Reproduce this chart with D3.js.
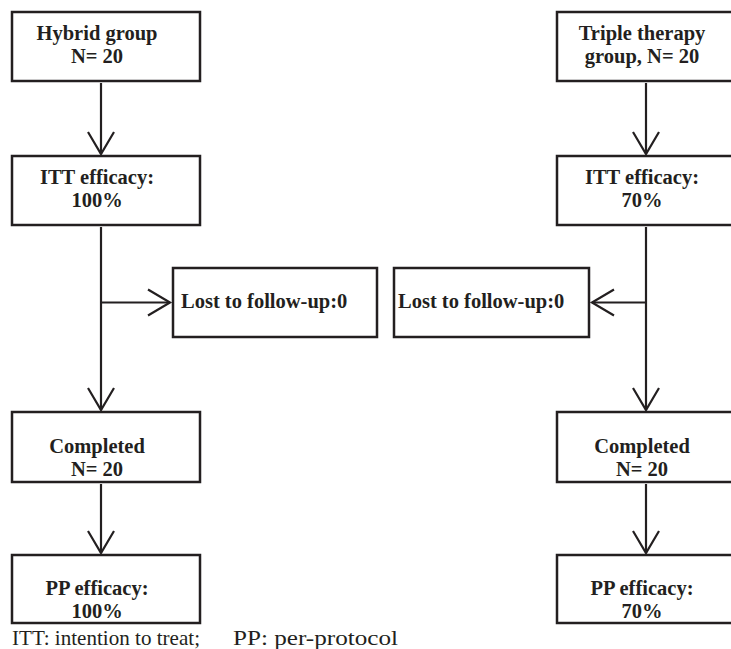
<!DOCTYPE html>
<html>
<head>
<meta charset="utf-8">
<script src="https://cdn.jsdelivr.net/npm/d3@7"></script>
<style>
  body { margin: 0; background: #fff; }
  svg text { font-family: "Liberation Serif", "Times New Roman", serif; fill: #231f20; }
</style>
</head>
<body>
<div id="chart-area"></div>
<script>
// flow chart: two arms, each going group -> ITT -> completed -> PP
const columns = ["hybrid", "triple"];
const rows = ["group", "itt", "lost", "completed", "pp"];

const nodeIds = ["h_group", "h_itt", "h_lost", "h_done", "h_pp",
                 "t_group", "t_itt", "t_lost", "t_done", "t_pp"];
const nodeCols = ["hybrid", "hybrid", "hybrid", "hybrid", "hybrid",
                  "triple", "triple", "triple", "triple", "triple"];
const nodeRows = ["group", "itt", "lost", "completed", "pp",
                  "group", "itt", "lost", "completed", "pp"];
const nodeLabels = [
    ["Hybrid group", "N= 20"],
    ["ITT efficacy:", "100%"],
    ["Lost to follow-up:0"],
    ["Completed", "N= 20"],
    ["PP efficacy:", "100%"],
    ["Triple therapy", "group, N= 20"],
    ["ITT efficacy:", "70%"],
    ["Lost to follow-up:0"],
    ["Completed", "N= 20"],
    ["PP efficacy:", "70%"]
];

// straight links down the spine, and the side branches off the ITT->completed link
const linkFrom = ["h_group", "h_itt", "h_done", "t_group", "t_itt", "t_done"];
const linkTo = ["h_itt", "h_done", "h_pp", "t_itt", "t_done", "t_pp"];
const branchFrom = ["h_itt", "t_itt"];
const branchTo = ["h_lost", "t_lost"];

const footnotes = ["ITT: intention to treat;", "PP: per-protocol"];

const width = 731, height = 649;

// spine x of each arm
const spineX = d3.scaleOrdinal().domain(columns).range([101, 646]);
// top of each row of boxes
const rowTop = d3.scaleOrdinal().domain(rows).range([12, 156, 268, 412, 555]);
const rowHeight = d3.scaleOrdinal().domain(rows).range([69, 69, 69, 70, 68]);
const rowBaseline = d3.scaleOrdinal().domain(rows).range([28, 28, 40, 41, 40]);
const lineGap = 23;

const nodes = nodeIds.map((id, i) => {
    const col = nodeCols[i], row = nodeRows[i];
    let x, w, pad = 8;
    if (row === "lost") {
        if (col === "hybrid") { x = spineX(col) + 72; w = 204; }
        else { x = spineX(col) - 252; w = 195; pad = 4; }
    } else {
        x = spineX(col) - 89; w = 188;
    }
    return {id: id, col: col, row: row, label: nodeLabels[i], pad: pad,
            x: x, y: rowTop(row), w: w, h: rowHeight(row)};
});
const byId = {};
nodes.forEach(n => { byId[n.id] = n; });

const svg = d3.select("#chart-area")
    .append("svg")
        .attr("width", width)
        .attr("height", height);

const stroke = "#231f20";

// boxes
const box = svg.selectAll("g.node").data(nodes).enter()
    .append("g")
        .attr("class", "node");
box.append("rect")
    .attr("x", d => d.x)
    .attr("y", d => d.y)
    .attr("width", d => d.w)
    .attr("height", d => d.h)
    .attr("fill", "none")
    .attr("stroke", stroke)
    .attr("stroke-width", 2.5);
box.each(function(d) {
    const g = d3.select(this);
    const one = d.label.length === 1;
    d.label.forEach((t, k) => {
        g.append("text")
            .attr("x", one ? d.x + d.pad : spineX(d.col) - 4)
            .attr("y", d.y + rowBaseline(d.row) + k * lineGap)
            .attr("text-anchor", one ? "start" : "middle")
            .attr("font-size", "20.5px")
            .attr("font-weight", "bold")
            .text(t);
    });
});

// arrowhead as an open V
function vHead(tx, ty, dir) {
    const len = 22, half = 13;
    if (dir === "down") return `M${tx - half},${ty - len}L${tx},${ty}L${tx + half},${ty - len}`;
    if (dir === "right") return `M${tx - len},${ty - half}L${tx},${ty}L${tx - len},${ty + half}`;
    return `M${tx + len},${ty - half}L${tx},${ty}L${tx + len},${ty + half}`;
}

const links = linkFrom.map((f, i) => ({a: byId[f], b: byId[linkTo[i]]}));
const lg = svg.append("g").attr("class", "links")
    .attr("fill", "none").attr("stroke", stroke).attr("stroke-width", 2.2);
links.forEach(l => {
    const x = spineX(l.a.col);
    const y1 = l.a.y + l.a.h + 2, y2 = l.b.y - 2;
    lg.append("line").attr("x1", x).attr("x2", x).attr("y1", y1).attr("y2", y2);
    lg.append("path").attr("d", vHead(x, y2, "down"));
});

const branches = branchFrom.map((f, i) => ({a: byId[f], b: byId[branchTo[i]]}));
branches.forEach(l => {
    const x = spineX(l.a.col);
    const y = l.b.y + l.b.h / 2;
    const left = l.b.x + l.b.w < x;
    const tx = left ? l.b.x + l.b.w + 3 : l.b.x - 3;
    lg.append("line").attr("x1", x).attr("x2", tx).attr("y1", y).attr("y2", y);
    lg.append("path").attr("d", vHead(tx, y, left ? "left" : "right"));
});

// footnote
const fx = [12, 233], fw = [188, 165];
svg.selectAll("text.foot").data(footnotes).enter()
    .append("text")
        .attr("class", "foot")
        .attr("x", (d, i) => fx[i])
        .attr("y", 645)
        .attr("font-size", "21px")
        .attr("textLength", (d, i) => fw[i])
        .attr("lengthAdjust", "spacingAndGlyphs")
        .text(d => d);
</script>
</body>
</html>
